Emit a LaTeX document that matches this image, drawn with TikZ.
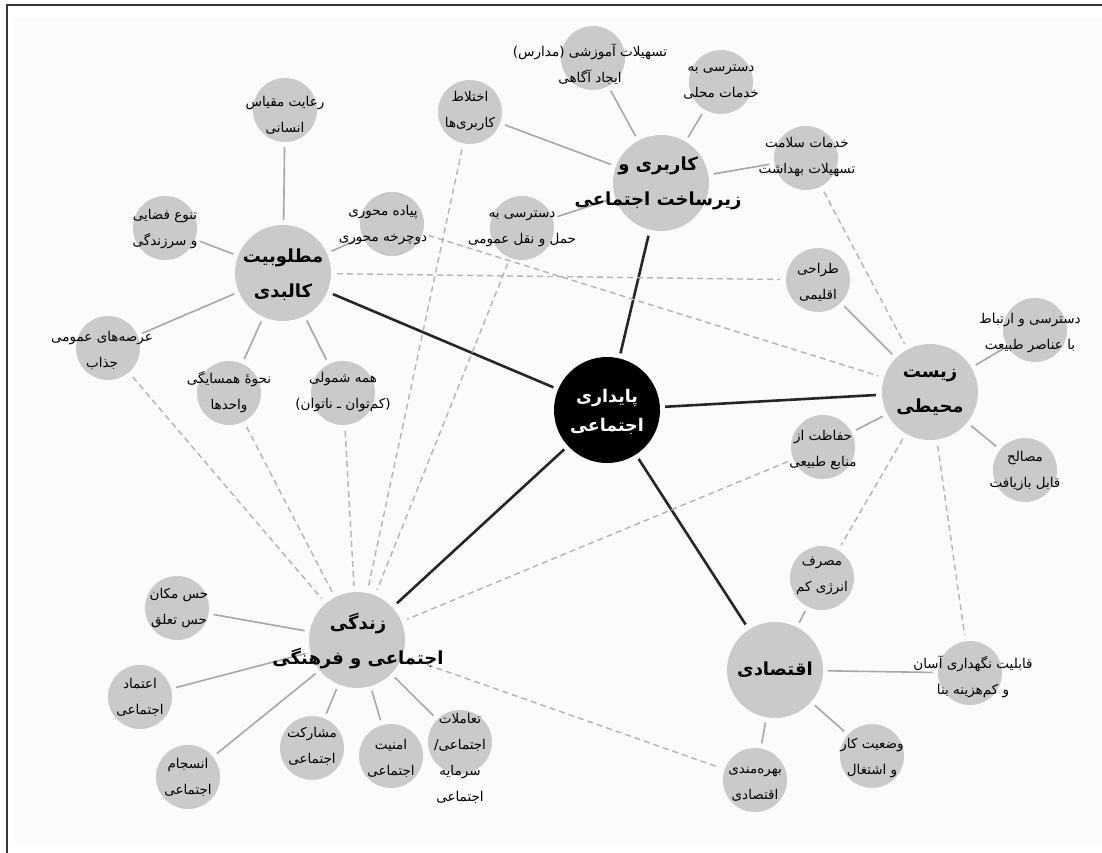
\documentclass[tikz,border=0pt]{standalone}
\usepackage{fontspec}
\newfontfamily\fafont[Script=Arabic]{DejaVu Sans}
\TeXXeTstate=1
\newcommand{\fa}[1]{\beginR #1\endR}
\pgfdeclarelayer{bgl}
\pgfdeclarelayer{edges}
\pgfsetlayers{bgl,edges,main}
\definecolor{cfill}{HTML}{CACACA}
\definecolor{sgray}{HTML}{A8A8A8}
\definecolor{dgray}{HTML}{B4B4B4}
\tikzset{
  smallc/.style={circle, fill=cfill, draw=none, minimum size=64pt, inner sep=0pt},
  hubc/.style={circle, fill=cfill, draw=none, minimum size=96pt, inner sep=0pt},
  corec/.style={circle, fill=black, draw=none, minimum size=106pt, inner sep=0pt},
  stext/.style={align=center, inner sep=0pt, font=\fafont\fontsize{13.5}{26}\selectfont, text=black},
  htext/.style={align=center, inner sep=0pt, font=\fafont\bfseries\fontsize{18}{35}\selectfont, text=black},
  ctext/.style={align=center, inner sep=0pt, font=\fafont\bfseries\fontsize{17.5}{29}\selectfont, text=white},
  sline/.style={draw=sgray, line width=1.6pt, shorten <=5pt, shorten >=5pt},
  dline/.style={draw=dgray, line width=1.4pt, dash pattern=on 6pt off 4pt, shorten <=6pt, shorten >=6pt},
  tline/.style={draw=black!85, line width=2.6pt, shorten <=5pt, shorten >=6pt}
}
\begin{document}
\begin{tikzpicture}[x=1pt,y=-1pt]
\useasboundingbox (0,0) rectangle (1102,853);
\begin{pgfonlayer}{bgl}
\fill[black!1.5] (14,17) rectangle (1102,845);
\draw[line width=1.2pt, black!80] (7,853) -- (7,5) -- (1102,5);
\end{pgfonlayer}

% core and hubs
\node[corec] (C) at (607,410) {};
\node[ctext] (Ct) at (607,412) {\fa{پایداری}\\\fa{اجتماعی}};
\node[hubc] (K) at (661,183) {};
\node[htext] (Kt) at (658,183) {\fa{کاربری و}\\\fa{زیرساخت اجتماعی}};
\node[hubc] (M) at (283,273) {};
\node[htext] (Mt) at (283,275) {\fa{مطلوبیت}\\\fa{کالبدی}};
\node[hubc] (Z) at (930,392) {};
\node[htext] (Zt) at (930,392) {\fa{زیست}\\\fa{محیطی}};
\node[hubc] (E) at (775,670) {};
\node[htext] (Et) at (775,670) {\fa{اقتصادی}};
\node[hubc] (L) at (357,640) {};
\node[htext] (Lt) at (358,641) {\fa{زندگی}\\\fa{اجتماعی و فرهنگی}};

% small nodes: land use
\node[smallc] (k1) at (593,58) {};
\node[stext] (k1t) at (590,64) {\fa{تسهیلات آموزشی (مدارس)}\\\fa{ایجاد آگاهی}};
\node[smallc] (k2) at (721,82) {};
\node[stext] (k2t) at (721,82) {\fa{دسترسی به}\\\fa{خدمات محلی}};
\node[smallc] (k3) at (470,112) {};
\node[stext] (k3t) at (470,111) {\fa{اختلاط}\\\fa{کاربری‌ها}};
\node[smallc] (k4) at (522,228) {};
\node[stext] (k4t) at (522,229) {\fa{دسترسی به}\\\fa{حمل و نقل عمومی}};
\node[smallc] (k5) at (806,158) {};
\node[stext] (k5t) at (807,157) {\fa{خدمات سلامت}\\\fa{تسهیلات بهداشت}};

% physical
\node[smallc] (m1) at (285,110) {};
\node[stext] (m1t) at (285,115) {\fa{رعایت مقیاس}\\\fa{انسانی}};
\node[smallc] (m2) at (165,228) {};
\node[stext] (m2t) at (165,229) {\fa{تنوع فضایی}\\\fa{و سرزندگی}};
\node[smallc] (m3) at (392,224) {};
\node[stext] (m3t) at (383,225) {\fa{پیاده محوری}\\\fa{دوچرخه محوری}};
\node[smallc] (m4) at (108,348) {};
\node[stext] (m4t) at (102,351) {\fa{عرصه‌های عمومی}\\\fa{جذاب}};
\node[smallc] (m5) at (229,393) {};
\node[stext] (m5t) at (229,392) {\fa{نحوهٔ همسایگی}\\\fa{واحدها}};
\node[smallc] (m6) at (343,393) {};
\node[stext] (m6t) at (343,392) {\fa{همه شمولی}\\\fa{(کم‌توان ـ ناتوان)}};

% environment
\node[smallc] (z1) at (818,280) {};
\node[stext] (z1t) at (818,282) {\fa{طراحی}\\\fa{اقلیمی}};
\node[smallc] (z2) at (1035,330) {};
\node[stext] (z2t) at (1030,333) {\fa{دسترسی و ارتباط}\\\fa{با عناصر طبیعت}};
\node[smallc] (z3) at (1025,470) {};
\node[stext] (z3t) at (1025,471) {\fa{مصالح}\\\fa{قابل بازیافت}};
\node[smallc] (z4) at (823,447) {};
\node[stext] (z4t) at (823,450) {\fa{حفاظت از}\\\fa{منابع طبیعی}};

% economic
\node[smallc] (e1) at (822,578) {};
\node[stext] (e1t) at (822,576) {\fa{مصرف}\\\fa{انرژی کم}};
\node[smallc] (e2) at (970,673) {};
\node[stext] (e2t) at (973,677) {\fa{قابلیت نگهداری آسان}\\\fa{و کم‌هزینه بنا}};
\node[smallc] (e3) at (872,756) {};
\node[stext] (e3t) at (872,758) {\fa{وضعیت کار}\\\fa{و اشتغال}};
\node[smallc] (e4) at (755,780) {};
\node[stext] (e4t) at (755,784) {\fa{بهره‌مندی}\\\fa{اقتصادی}};

% social life
\node[smallc] (l1) at (177,608) {};
\node[stext] (l1t) at (179,608) {\fa{حس مکان}\\\fa{حس تعلق}};
\node[smallc] (l2) at (140,697) {};
\node[stext] (l2t) at (140,697) {\fa{اعتماد}\\\fa{اجتماعی}};
\node[smallc] (l3) at (188,777) {};
\node[stext] (l3t) at (188,777) {\fa{انسجام}\\\fa{اجتماعی}};
\node[smallc] (l4) at (312,748) {};
\node[stext] (l4t) at (312,746) {\fa{مشارکت}\\\fa{اجتماعی}};
\node[smallc] (l5) at (391,756) {};
\node[stext] (l5t) at (391,758) {\fa{امنیت}\\\fa{اجتماعی}};
\node[smallc] (l6) at (460,742) {};
\node[stext] (l6t) at (460,758) {\fa{تعاملات}\\\fa{اجتماعی/}\\\fa{سرمایه}\\\fa{اجتماعی}};

\begin{pgfonlayer}{edges}
% thick core links
\draw[tline] (C) -- (K);
\draw[tline] (C) -- (M);
\draw[tline] (C) -- (Z);
\draw[tline] (C) -- (E);
\draw[tline] (C) -- (L);
% hub spokes
\foreach \s in {k1,k2,k3,k4,k5} \draw[sline] (K) -- (\s);
\foreach \s in {m1,m2,m3,m4,m5,m6} \draw[sline] (M) -- (\s);
\foreach \s in {z1,z2,z3,z4} \draw[sline] (Z) -- (\s);
\foreach \s in {e1,e2,e3,e4} \draw[sline] (E) -- (\s);
\foreach \s in {l1,l2,l3,l4,l5,l6} \draw[sline] (L) -- (\s);
% dashed cross links
\draw[dline] (k3) -- (L);
\draw[dline] (k4) -- (L);
\draw[dline] (m6) -- (L);
\draw[dline] (m5) -- (L);
\draw[dline] (m4) -- (L);
\draw[dline] (z4) -- (L);
\draw[dline] (L) -- (e4);
\draw[dline] (M) -- (z1);
\draw[dline] (m3) -- (Z);
\draw[dline] (k5) -- (Z);
\draw[dline] (Z) -- (e1);
\draw[dline] (Z) -- (e2);
\end{pgfonlayer}
\end{tikzpicture}
\end{document}
